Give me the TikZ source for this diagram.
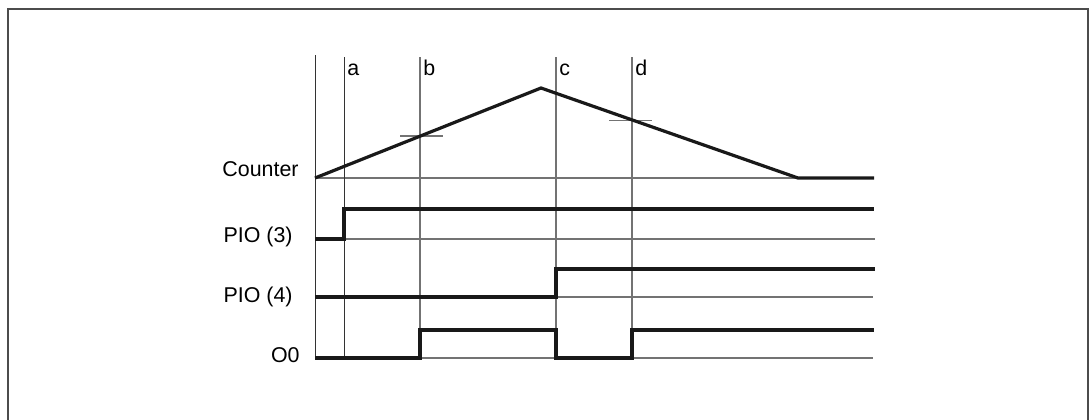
\documentclass[tikz,border=0pt]{standalone}
\usepackage{fontspec}
\setmainfont{Liberation Sans}

\begin{document}
\begin{tikzpicture}[x=0.5pt,y=-0.5pt,
    grid/.style={black!55, line width=0.55pt},
    mark line/.style={black!80, line width=0.5pt},
    signal/.style={black!90, line width=1.6pt, line join=miter},
    frame/.style={black!70, line width=1pt},
    lbl/.style={inner sep=0pt, font=\fontsize{10.7pt}{12pt}\selectfont}]
    \useasboundingbox (0,0) rectangle (1090,419);
    \draw[frame] (8,425)--(8,9)--(1088,9)--(1088,425);

    % base lines
    \draw[grid](315,178)--(874,178) ;
    \draw[grid](315,239)--(875,239) ;
    \draw[grid](315,297)--(873,297) ;
    \draw[grid](315,358)--(873,358) ;

    % time markers
    \draw[mark line](315,55)--(315,358) ;
    \draw[mark line](344,57)--(344,358) ;
    \draw[grid](420,57)--(420,358) ;
    \draw[grid](556,57)--(556,358) ;
    \draw[grid](632,57)--(632,358) ;
    \node[lbl, anchor=base west] (a) at (347,75.5) {a};
    \node[lbl, anchor=base west] (b) at (423,75.5) {b};
    \node[lbl, anchor=base west] (c) at (559,75.5) {c};
    \node[lbl, anchor=base west] (d) at (635,75.5) {d};

    % compare levels
    \draw[grid](400,136)--(443,136) ;
    \draw[grid](609,120.7)--(652,120.7) ;

    % signals
    \draw[signal](315,178)--(541,88)--(798,178)--(874,178) ;
    \draw[signal](315,239)--(344,239)--(344,209)--(874,209) ;
    \draw[signal](315,297)--(556,297)--(556,269)--(875,269) ;
    \draw[signal](315,358)--(420,358)--(420,330)--(556,330)--(556,358)--(632,358)--(632,330)--(874,330) ;

    \node[lbl, anchor=base east] (counter) at (299,176.5) {Counter};
    \node[lbl, anchor=base east] (pio3) at (293,242) {PIO (3)};
    \node[lbl, anchor=base east] (pio4) at (293,302.5) {PIO (4)};
    \node[lbl, anchor=base east] (o0) at (300,362) {O0};
\end{tikzpicture}
\end{document}
